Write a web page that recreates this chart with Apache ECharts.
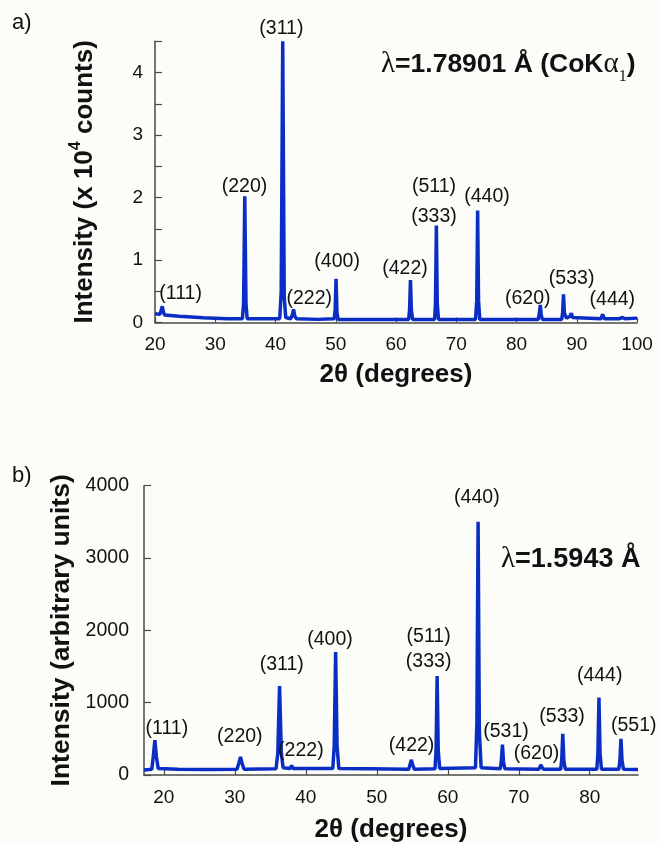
<!DOCTYPE html>
<html>
<head>
<meta charset="utf-8">
<script src="https://cdn.jsdelivr.net/npm/echarts@6/dist/echarts.min.js"></script>
<style>
html,body{margin:0;padding:0;background:#fcfcf9;}
#chart{width:660px;height:844px;}
</style>
</head>
<body>
<div id="chart"></div>
<script>
// ---------- Panel a) : CoKα1, intensity in 10^4 counts ----------
const aTwoTheta = [20.0,20.8,21.0,21.2,21.4,21.6,24,28,32,34.5,34.7,34.9,35.1,35.3,36.9,37.1,37.3,40.7,40.95,41.2,41.45,41.7,42.5,42.8,43.0,43.2,43.5,47,49.75,49.9,50.05,50.2,50.4,54.8,55.0,55.2,62.1,62.25,62.4,62.55,62.75,66.4,66.55,66.7,66.85,67.05,73.2,73.4,73.55,73.7,73.9,80,83.6,83.8,83.95,84.1,84.3,87.5,87.65,87.8,87.95,88.3,88.9,89.1,89.3,89.6,94.0,94.3,94.6,97,97.6,98,100];
const aIntensity = [0.14,0.13,0.18,0.26,0.17,0.12,0.10,0.075,0.06,0.06,0.3,2.02,0.3,0.06,0.06,0.09,0.06,0.06,0.5,4.5,0.4,0.08,0.06,0.12,0.21,0.1,0.06,0.05,0.06,0.2,0.70,0.15,0.05,0.05,0.08,0.05,0.05,0.2,0.68,0.2,0.05,0.05,0.3,1.55,0.3,0.05,0.05,0.35,1.79,0.35,0.05,0.05,0.05,0.15,0.28,0.12,0.05,0.05,0.15,0.45,0.15,0.07,0.1,0.15,0.08,0.05,0.06,0.13,0.06,0.06,0.08,0.06,0.07];
const aXTicks = [20,30,40,50,60,70,80,90,100];
const aYLabels = [0,1,2,3,4];
const aYTicks = [0,0.5,1,1.5,2,2.5,3,3.5,4,4.5];
const aPeakNames = ['(111)','(220)','(311)','(222)','(400)','(422)','(511)','(333)','(440)','(620)','(533)','(444)'];
const aPeakLabelX = [24.25,34.85,40.98,45.6,50.23,61.5,66.3,66.3,75.1,81.86,89.15,95.9];
const aPeakLabelY = [0.456,2.18,4.70,0.39,0.97,0.87,2.17,1.70,2.01,0.376,0.696,0.36];

// ---------- Panel b) : λ = 1.5943 Å, arbitrary units ----------
const bTwoTheta = [17.2,18.3,18.5,18.73,18.95,19.2,22,26,30.3,30.55,30.8,31.05,31.3,35.8,36.05,36.3,36.55,36.8,37.8,38.0,38.2,43.8,44.0,44.2,44.4,44.65,48.7,48.9,49.1,54.5,54.7,54.85,55.05,55.3,58.2,58.35,58.5,58.65,58.85,63.9,64.1,64.27,64.45,64.7,67.4,67.55,67.7,67.85,68.05,72.8,73.0,73.1,73.25,73.5,75.9,76.05,76.2,76.35,76.55,81.0,81.15,81.3,81.45,81.65,84.1,84.25,84.4,84.55,84.75,86.8];
const bIntensity = [70,80,250,480,250,90,80,75,80,160,250,150,80,85,300,1230,300,100,90,130,90,90,400,1700,400,90,85,110,85,80,150,210,140,80,85,350,1370,350,90,100,700,3500,600,100,85,200,420,180,85,80,110,140,110,80,80,200,570,200,80,80,300,1070,300,80,80,200,500,200,80,75];
const bXTicks = [20,30,40,50,60,70,80];
const bYTicks = [0,1000,2000,3000,4000];
const bPeakNames = ['(111)','(220)','(311)','(222)','(400)','(422)','(511)','(333)','(440)','(531)','(620)','(533)','(444)','(551)'];
const bPeakLabelX = [20.42,30.7,36.6,39.3,43.4,54.9,57.3,57.3,64.1,68.2,72.5,76.1,81.4,86.2];
const bPeakLabelY = [644,534,1521,342,1877,411,1918,1562,3836,603,301,808,1370,685];

const zip = (xs, ys) => xs.map((x, i) => [x, ys[i]]);
const zipL = (xs, ys, ns) => xs.map((x, i) => [x, ys[i], ns[i]]);

const SANS = "'Liberation Sans', Arial, Helvetica, sans-serif";
const SERIF = "'Liberation Serif', 'Times New Roman', serif";
const TXT = '#111111';
const AXIS = '#4a4a4a';
const BLUE = '#0a2ec4';

const chart = echarts.init(document.getElementById('chart'), null, {renderer: 'canvas'});

function xAxisCfg(gridIndex, min, max, ticks, gap) {
  return {
    type: 'value', gridIndex, min, max,
    name: '2θ (degrees)', nameLocation: 'middle', nameGap: gap,
    nameTextStyle: {fontFamily: SANS, fontWeight: 'bold', fontSize: 26, color: TXT},
    axisLine: {show: true, onZero: false, lineStyle: {color: AXIS, width: 1.5}},
    axisTick: {show: true, inside: true, length: 5, customValues: ticks, lineStyle: {color: AXIS, width: 1.2}},
    axisLabel: {show: true, customValues: ticks, margin: 13, fontFamily: SANS, fontSize: 19, color: TXT, formatter: v => String(v)},
    splitLine: {show: false}
  };
}

const peakLabel = {show: true, position: 'inside', formatter: p => p.data[2], fontFamily: SANS, fontSize: 19.5, color: TXT, textBorderWidth: 0, opacity: 1};

const option = {
  backgroundColor: '#fcfcf9',
  animation: false,
  grid: [
    {left: 155, right: 23, top: 41.25, height: 281.25},
    {left: 144, right: 22, top: 485.7, height: 291.3}
  ],
  xAxis: [
    xAxisCfg(0, 20, 100, aXTicks, 39),
    xAxisCfg(1, 17.2, 86.8, bXTicks, 42)
  ],
  yAxis: [
    {
      type: 'value', gridIndex: 0, min: 0, max: 4.5,
      name: '{b|Intensity (x 10}{sup|4}{b| counts)}',
      nameLocation: 'middle', nameGap: 53, nameRotate: 90,
      nameTextStyle: {
        rich: {
          b: {fontFamily: SANS, fontWeight: 'bold', fontSize: 26, color: TXT, lineHeight: 34, verticalAlign: 'middle'},
          sup: {fontFamily: SANS, fontWeight: 'bold', fontSize: 16, color: TXT, verticalAlign: 'top'}
        }
      },
      axisLine: {show: true, lineStyle: {color: AXIS, width: 1.5}},
      axisTick: {show: true, inside: true, length: 7, customValues: aYTicks, lineStyle: {color: AXIS, width: 1.2}},
      axisLabel: {show: true, customValues: aYLabels, margin: 12, padding: [0, 0, 8, 0], fontFamily: SANS, fontSize: 19, color: TXT, formatter: v => String(v)},
      splitLine: {show: false}
    },
    {
      type: 'value', gridIndex: 1, min: 0, max: 4000,
      name: 'Intensity (arbitrary units)',
      nameLocation: 'middle', nameGap: 62, nameRotate: 90,
      nameTextStyle: {fontFamily: SANS, fontWeight: 'bold', fontSize: 26.5, color: TXT},
      axisLine: {show: true, lineStyle: {color: AXIS, width: 1.5}},
      axisTick: {show: true, inside: true, length: 7, customValues: bYTicks, lineStyle: {color: AXIS, width: 1.2}},
      axisLabel: {show: true, customValues: bYTicks, margin: 15, padding: [0, 0, 7, 0], fontFamily: SANS, fontSize: 19.5, color: TXT, formatter: v => String(v)},
      splitLine: {show: false}
    }
  ],
  series: [
    {
      type: 'line', xAxisIndex: 0, yAxisIndex: 0, data: zip(aTwoTheta, aIntensity),
      showSymbol: false, clip: false, silent: true,
      lineStyle: {color: BLUE, width: 3.5}
    },
    {
      type: 'line', xAxisIndex: 1, yAxisIndex: 1, data: zip(bTwoTheta, bIntensity),
      showSymbol: false, clip: false, silent: true,
      lineStyle: {color: BLUE, width: 3.5}
    },
    {
      type: 'scatter', xAxisIndex: 0, yAxisIndex: 0, data: zipL(aPeakLabelX, aPeakLabelY, aPeakNames),
      symbolSize: 0, clip: false, silent: true, z: 5,
      itemStyle: {color: 'transparent'},
      label: peakLabel
    },
    {
      type: 'scatter', xAxisIndex: 1, yAxisIndex: 1, data: zipL(bPeakLabelX, bPeakLabelY, bPeakNames),
      symbolSize: 0, clip: false, silent: true, z: 5,
      itemStyle: {color: 'transparent'},
      label: peakLabel
    }
  ],
  graphic: [
    {type: 'text', left: 12, top: 12, style: {text: 'a)', font: "22px " + SANS, fill: TXT}},
    {type: 'text', left: 12, top: 465, style: {text: 'b)', font: "22px " + SANS, fill: TXT}},
    {
      type: 'text', left: 381, top: 50,
      style: {
        text: '{s|λ}{b|=1.78901 Å (CoK}{s|α}{sub|1}{b|)}',
        rich: {
          b: {fontFamily: SANS, fontWeight: 'bold', fontSize: 26.5, fill: TXT, color: TXT, lineHeight: 40, verticalAlign: 'middle'},
          s: {fontFamily: SERIF, fontSize: 29, fill: TXT, color: TXT, lineHeight: 40, verticalAlign: 'middle'},
          sub: {fontFamily: SERIF, fontSize: 16, fill: TXT, color: TXT, verticalAlign: 'bottom'}
        }
      }
    },
    {
      type: 'text', left: 501, top: 545,
      style: {
        text: '{s|λ}{b|=1.5943 Å}',
        rich: {
          b: {fontFamily: SANS, fontWeight: 'bold', fontSize: 27, fill: TXT, color: TXT, lineHeight: 36, verticalAlign: 'middle'},
          s: {fontFamily: SERIF, fontSize: 29, fill: TXT, color: TXT, lineHeight: 36, verticalAlign: 'middle'}
        }
      }
    }
  ]
};
chart.setOption(option);
</script>
</body>
</html>
